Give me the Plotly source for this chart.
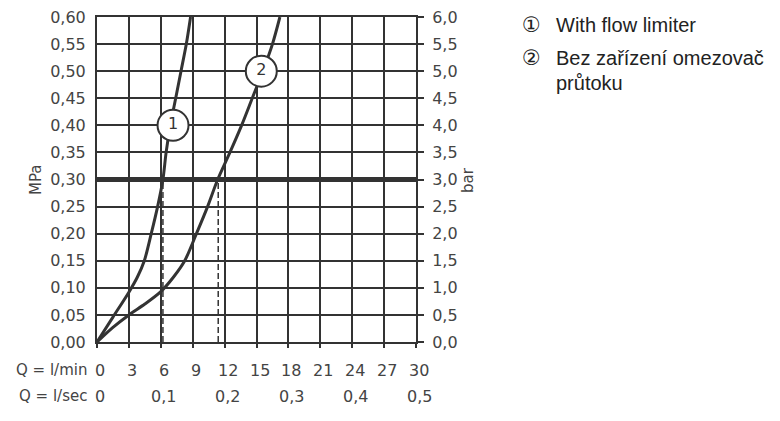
import plotly.graph_objects as go

# ---- data ----
flow_ticks = [0, 3, 6, 9, 12, 15, 18, 21, 24, 27, 30]
lsec_pos = [0, 6, 12, 18, 24, 30]
lsec_labels = ["0", "0,1", "0,2", "0,3", "0,4", "0,5"]

c1_q = [0, 1.5, 3.0, 3.8, 4.45, 5.1, 5.7, 6.2, 6.5, 6.9, 7.4, 7.9, 8.4, 8.8]
c1_p = [0, 0.046, 0.092, 0.12, 0.15, 0.20, 0.25, 0.30, 0.35, 0.40, 0.45, 0.50, 0.55, 0.60]

c2_q = [0, 1.5, 3.0, 4.5, 6.0, 7.2, 8.25, 9.35, 10.4, 11.35, 12.5, 13.6, 14.6, 15.6, 16.5, 17.2]
c2_p = [0, 0.027, 0.05, 0.07, 0.093, 0.12, 0.15, 0.20, 0.25, 0.30, 0.35, 0.40, 0.45, 0.50, 0.55, 0.60]

ref_pressure = 0.30
drop_q = [6.2, 11.4]

label_q = [7.15, 15.45]
label_p = [0.40, 0.50]
label_txt = ["1", "2"]

legend_marks = ["\u2460", "\u2461"]
legend_lines = ["With flow limiter", "Bez zařízení omezovač", "průtoku"]

INK = "#333333"
TXT = "#444444"
FONT = "DejaVu Sans"

fig = go.Figure()

fig.add_trace(go.Scatter(x=[0, 30], y=[ref_pressure, ref_pressure], mode="lines",
                         line=dict(color=INK, width=5), hoverinfo="skip", showlegend=False))
for q in drop_q:
    fig.add_trace(go.Scatter(x=[q, q], y=[0, ref_pressure], mode="lines",
                             line=dict(color=INK, width=1.5, dash="6px,3px"),
                             hoverinfo="skip", showlegend=False))
fig.add_trace(go.Scatter(x=c1_q, y=c1_p, mode="lines", line=dict(color=INK, width=3, shape="spline", smoothing=0.8),
                         showlegend=False))
fig.add_trace(go.Scatter(x=c2_q, y=c2_p, mode="lines", line=dict(color=INK, width=3, shape="spline", smoothing=0.8),
                         showlegend=False))
fig.add_trace(go.Scatter(x=label_q, y=label_p, mode="markers+text", text=label_txt,
                         textposition="middle center",
                         textfont=dict(family=FONT, size=16, color=INK),
                         marker=dict(size=31, color="white", line=dict(color=INK, width=2)),
                         showlegend=False, cliponaxis=False))
fig.add_trace(go.Scatter(x=[0, 30], y=[0, 6], yaxis="y2", mode="lines",
                         line=dict(width=0), hoverinfo="skip", showlegend=False))

# page has an 8px body margin, so the figure is drawn 8px smaller and offset
fig.update_layout(
    width=772, height=413,
    margin=dict(l=89, r=364, t=9, b=79, autoexpand=False),
    paper_bgcolor="white", plot_bgcolor="white",
    separators=",.",
    font=dict(family=FONT, size=16, color=TXT),
    xaxis=dict(range=[0, 30], tickvals=flow_ticks, showticklabels=False, automargin=False,
               showgrid=True, gridcolor=INK, gridwidth=2,
               showline=True, linecolor=INK, linewidth=2, mirror=True,
               ticks="outside", ticklen=4, tickcolor=INK, tickwidth=2,
               zeroline=False),
    yaxis=dict(range=[0, 0.6], dtick=0.05, tickformat=".2f", automargin=False,
               showgrid=True, gridcolor=INK, gridwidth=2,
               showline=True, linecolor=INK, linewidth=2,
               ticks="outside", ticklen=6, tickcolor="rgba(0,0,0,0)",
               ticklabeloverflow="allow",
               zeroline=False, tickfont=dict(size=16, color=TXT)),
    yaxis2=dict(range=[0, 6], dtick=0.5, tickformat=".1f", overlaying="y", side="right",
                automargin=False, showgrid=False, showline=True, linecolor=INK, linewidth=2,
                ticks="outside", ticklen=6, tickcolor=INK, tickwidth=2, ticklabelstandoff=5,
                ticklabeloverflow="allow",
                zeroline=False, tickfont=dict(size=16, color=TXT)),
)

pl, pr, pt, pb = 97, 416, 17, 342
def px(xpx):
    return (xpx - pl) / (pr - pl)
def py(ypx):
    return (pb - ypx) / (pb - pt)

ann = [
    dict(text="MPa", x=px(36), y=py(180), textangle=-90, font=dict(size=15, color=TXT)),
    dict(text="bar", x=px(468), y=py(180), textangle=-90, font=dict(size=15, color=TXT)),
    dict(text="Q = l/min", x=px(89), y=py(370), xanchor="right", font=dict(size=15, color=TXT)),
    dict(text="Q = l/sec", x=px(89), y=py(396), xanchor="right", font=dict(size=15, color=TXT)),
]
for q in flow_ticks:
    ann.append(dict(text=str(q), x=q, xref="x", xshift=3, y=py(370), font=dict(size=16, color=TXT)))
for q, lab in zip(lsec_pos, lsec_labels):
    ann.append(dict(text=lab, x=q, xref="x", xshift=3, y=py(396), font=dict(size=16, color=TXT)))
ys = [25, 58, 83]
for m, yv in zip(legend_marks, ys[:2]):
    ann.append(dict(text=m, x=px(531), y=py(yv), font=dict(family="DejaVu Sans", size=21, color="#222")))
for t, yv in zip(legend_lines, ys):
    ann.append(dict(text=t, x=px(554), y=py(yv), xanchor="left",
                    font=dict(family="Liberation Sans", size=20, color="#222")))
for a in ann:
    a.setdefault("xref", "paper")
    a["yref"] = "paper"
    a["showarrow"] = False
    a.setdefault("xanchor", "center")
    a.setdefault("yanchor", "middle")
fig.update_layout(annotations=ann)

fig.write_html("out.html")
